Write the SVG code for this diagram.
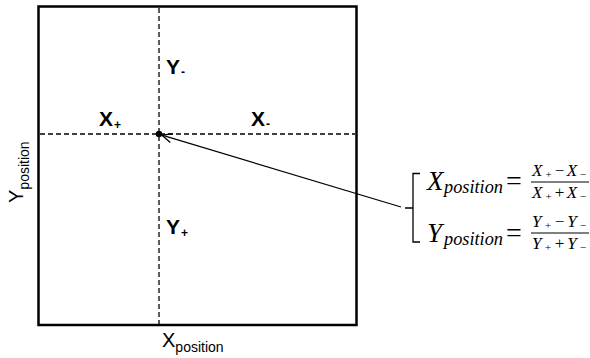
<svg xmlns="http://www.w3.org/2000/svg" width="590" height="358" viewBox="0 0 590 358">
<defs>
<style>
.frame{fill:none;stroke:#000;stroke-width:2.5}
.dash{stroke:#000;stroke-width:1.3;stroke-dasharray:5,3;fill:none}
.lbl{font-family:"Liberation Sans",Arial,sans-serif;font-weight:bold;font-size:21px;fill:#000}
.sub{font-size:12px}
.ax{font-family:"Liberation Sans",Arial,sans-serif;font-size:20px;fill:#000}
.axs{font-size:14px}
.m{font-family:"Liberation Serif","Times New Roman",serif;font-style:italic;fill:#000}
.mr{font-family:"Liberation Serif","Times New Roman",serif;font-style:normal}
.ln{stroke:#000;stroke-width:1.3;fill:none}
</style>
<marker id="open" viewBox="0 0 12 12" refX="11" refY="6" markerWidth="12" markerHeight="12" markerUnits="userSpaceOnUse" orient="auto">
<path d="M1,1.5 L11,6 L1,10.5" fill="none" stroke="#000" stroke-width="1.3"/>
</marker>
</defs>
<rect width="590" height="358" fill="#fff"/>
<g id="plate">
<rect class="frame" x="38.5" y="6.5" width="318" height="318.5"/>
</g>
<g id="axes">
<line class="dash" x1="159" y1="8" x2="159" y2="324"/>
<line class="dash" x1="40" y1="134" x2="355" y2="134"/>
</g>
<g id="center">
<circle cx="159" cy="134" r="3.2" fill="#000"/>
</g>
<g id="labels">
<text class="lbl" x="166" y="74">Y<tspan class="sub" dx="1" dy="2">-</tspan></text>
<text class="lbl" x="99" y="126">X<tspan class="sub" dx="1" dy="3">+</tspan></text>
<text class="lbl" x="251" y="126">X<tspan class="sub" dx="1" dy="2">-</tspan></text>
<text class="lbl" x="166" y="234">Y<tspan class="sub" dx="1" dy="3">+</tspan></text>
</g>
<g id="xaxis-label">
<text class="ax" x="162" y="347">X<tspan class="axs" dy="5">position</tspan></text>
</g>
<g id="yaxis-label">
<text class="ax" transform="translate(23,203) rotate(-90)">Y<tspan class="axs" dy="6">position</tspan></text>
</g>
<g id="connectors">
<line class="ln" x1="401" y1="207" x2="162" y2="135.2" marker-end="url(#open)"/>
</g>
<g id="formula">
<path class="ln" d="M420,173.5 H413 V242 H420 M413,208 H405" stroke-width="1.2"/>
<text class="m" x="427" y="190" font-size="27">X</text>
<text class="m" x="444" y="193" font-size="18" textLength="59" lengthAdjust="spacingAndGlyphs">position</text>
<text class="mr" x="506" y="190" font-size="28">=</text>
<text class="m" x="532" y="176" font-size="17" textLength="55" lengthAdjust="spacing">X<tspan font-size="11" dy="2">+</tspan><tspan dy="-2" class="mr">−</tspan>X<tspan font-size="11" dy="2">−</tspan></text>
<line x1="531" y1="182" x2="589" y2="182" stroke="#000" stroke-width="1"/>
<text class="m" x="532" y="198" font-size="17" textLength="55" lengthAdjust="spacing">X<tspan font-size="11" dy="2">+</tspan><tspan dy="-2" class="mr">+</tspan>X<tspan font-size="11" dy="2">−</tspan></text>
<text class="m" x="427" y="242" font-size="27">Y</text>
<text class="m" x="444" y="245" font-size="18" textLength="59" lengthAdjust="spacingAndGlyphs">position</text>
<text class="mr" x="506" y="242" font-size="28">=</text>
<text class="m" x="532" y="227" font-size="17" textLength="55" lengthAdjust="spacing">Y<tspan font-size="11" dy="2">+</tspan><tspan dy="-2" class="mr">−</tspan>Y<tspan font-size="11" dy="2">−</tspan></text>
<line x1="531" y1="233" x2="589" y2="233" stroke="#000" stroke-width="1"/>
<text class="m" x="532" y="249" font-size="17" textLength="55" lengthAdjust="spacing">Y<tspan font-size="11" dy="2">+</tspan><tspan dy="-2" class="mr">+</tspan>Y<tspan font-size="11" dy="2">−</tspan></text>
</g>
</svg>
